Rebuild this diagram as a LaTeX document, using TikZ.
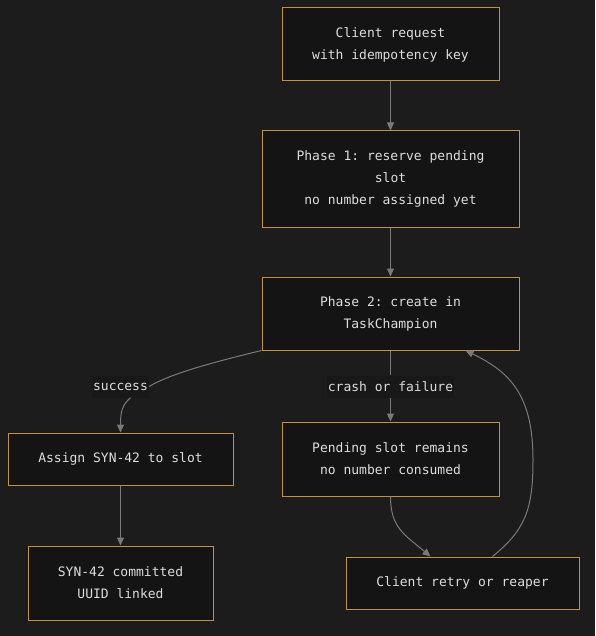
\documentclass[tikz,border=0pt]{standalone}
\usepackage{fontspec}
\setmonofont{DejaVu Sans Mono}
\usepackage{tikz}
\usetikzlibrary{arrows.meta}
\definecolor{bgdark}{HTML}{1C1C1C}
\definecolor{boxfill}{HTML}{141414}
\definecolor{boxline}{HTML}{C4923A}
\definecolor{edgegray}{HTML}{7A7A7A}
\definecolor{txtgray}{HTML}{DDDDDD}
\definecolor{lblfill}{HTML}{181818}

\begin{document}
\begin{tikzpicture}[x=1pt,y=-1pt,
    box/.style={draw=boxline,fill=boxfill,line width=1pt,text=txtgray,align=center,inner sep=0pt,
      font=\fontsize{13}{22}\selectfont\ttfamily},
    lbl/.style={fill=lblfill,text=txtgray,inner xsep=1pt,inner ysep=0pt,minimum height=22pt,
      font=\fontsize{13}{22}\selectfont\ttfamily},
    edge/.style={draw=edgegray,line width=1pt},
    arr/.style={edge,-{Triangle[length=8pt,width=7pt]}}]
  \useasboundingbox[fill=bgdark] (0,0) rectangle (595,636);
  \node[box,minimum width=217pt,minimum height=73pt] (req) at (390.5,44.5) {Client request\\with idempotency key};
  \node[box,minimum width=257pt,minimum height=96pt] (ph1) at (390.5,179) {Phase 1: reserve pending\\slot\\no number assigned yet};
  \node[box,minimum width=257pt,minimum height=73pt] (ph2) at (390.5,313.5) {Phase 2: create in\\TaskChampion};
  \node[box,minimum width=225pt,minimum height=52pt] (assign) at (120.5,459) {Assign SYN-42 to slot};
  \node[box,minimum width=185pt,minimum height=74pt] (commit) at (120.5,583) {SYN-42 committed\\UUID linked};
  \node[box,minimum width=217pt,minimum height=74pt] (pend) at (390.5,459) {Pending slot remains\\no number consumed};
  \node[box,minimum width=233pt,minimum height=52pt] (retry) at (462.5,583) {Client retry or reaper};
  \node[lbl] (ok) at (120.5,386.5) {success};
  \node[lbl] (crash) at (390.5,386.5) {crash or failure};
  \draw[arr] (req) -- (ph1);
  \draw[arr] (ph1) -- (ph2);
  \draw[edge] (ph2.south west) .. controls (210,363) and (170,374) .. (ok.east);
  \draw[arr] ([xshift=10pt]ok.south) .. controls (122,405) and (120.5,412) .. (assign.north);
  \draw[edge] (ph2.south) -- (crash.north);
  \draw[arr] (crash.south) -- (pend.north);
  \draw[arr] (assign) -- (commit);
  \draw[arr] (pend.south) .. controls (390.5,528) and (405,535) .. ([xshift=-32pt]retry.north);
  \draw[arr] ([xshift=30pt]retry.north) .. controls (525,530) and (533,510) .. (533,460)
    .. controls (533,395) and (510,372) .. ([xshift=75pt]ph2.south);
\end{tikzpicture}
\end{document}
